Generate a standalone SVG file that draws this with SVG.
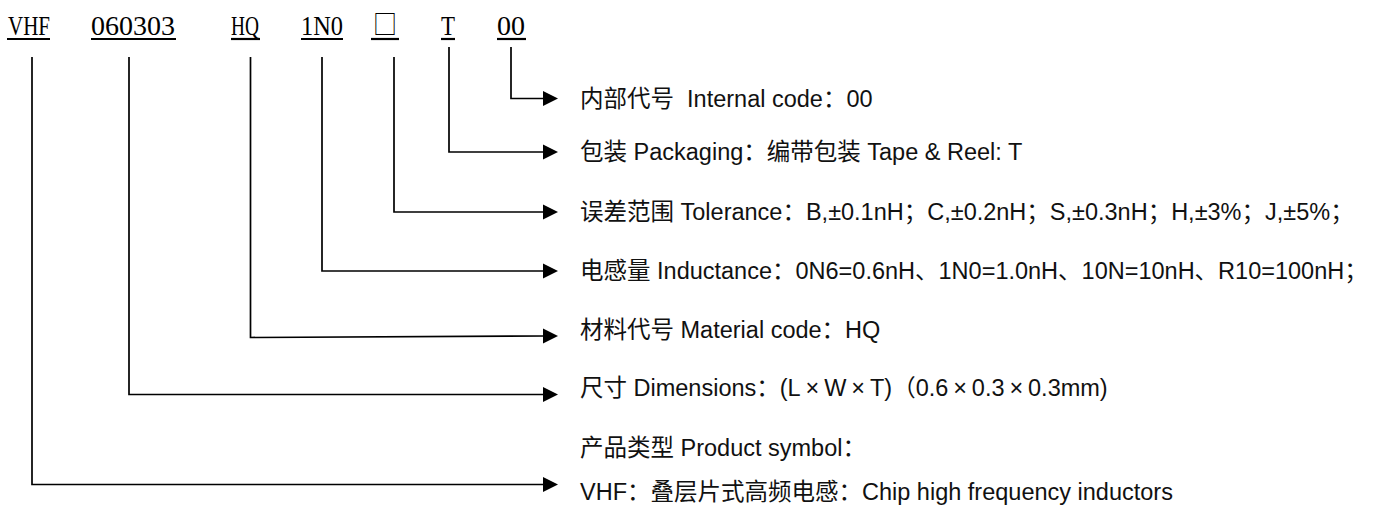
<svg xmlns="http://www.w3.org/2000/svg" width="1384" height="508" viewBox="0 0 1384 508">
<style>
.code{font-family:"Liberation Serif","Noto Sans CJK SC",serif;font-size:28px;fill:#000}
.box{font-family:"Noto Sans CJK SC","DejaVu Sans",sans-serif;font-size:26px;fill:#000}
.ul{stroke:#000;stroke-width:2.2;fill:none}
.desc{font-family:"Liberation Sans","Noto Sans CJK SC",sans-serif;font-size:23.5px;fill:#111;white-space:pre}
.con{stroke:#000;stroke-width:1.7;fill:none;marker-end:url(#arr)}
</style>
<defs>
<marker id="arr" markerUnits="userSpaceOnUse" markerWidth="15" markerHeight="16" refX="2" refY="8" orient="auto">
<path d="M0,0.5 L15,8 L0,15.5 z" fill="#000"/>
</marker>
</defs>
<g id="code-vhf"><text class="code" x="8" y="35" textLength="42" lengthAdjust="spacingAndGlyphs">VHF</text><line class="ul" x1="7" y1="39" x2="50" y2="39"/></g>
<g id="code-size"><text class="code" x="91" y="35" textLength="84" lengthAdjust="spacingAndGlyphs">060303</text><line class="ul" x1="91" y1="39" x2="176" y2="39"/></g>
<g id="code-material"><text class="code" x="231" y="35" textLength="28" lengthAdjust="spacingAndGlyphs">HQ</text><line class="ul" x1="231" y1="39" x2="260" y2="39"/></g>
<g id="code-inductance"><text class="code" x="301" y="35" textLength="42" lengthAdjust="spacingAndGlyphs">1N0</text><line class="ul" x1="301" y1="39" x2="343" y2="39"/></g>
<g id="code-tolerance"><text class="box" x="373" y="34" textLength="24" lengthAdjust="spacingAndGlyphs">□</text><line class="ul" x1="371" y1="39" x2="399" y2="39"/></g>
<g id="code-packaging"><text class="code" x="441" y="35" textLength="14" lengthAdjust="spacingAndGlyphs">T</text><line class="ul" x1="441" y1="39" x2="455" y2="39"/></g>
<g id="code-internal"><text class="code" x="497" y="35" textLength="28" lengthAdjust="spacingAndGlyphs">00</text><line class="ul" x1="497" y1="39" x2="526" y2="39"/></g>
<g id="connectors">
<path class="con" d="M511,47 V98.5 H545"/>
<path class="con" d="M449,47 V152 H545"/>
<path class="con" d="M394,57 V212 H545"/>
<path class="con" d="M322,57 V271 H545"/>
<path class="con" d="M250.5,57 V337.5 L545,336"/>
<path class="con" d="M129,57 V394.5 H545"/>
<path class="con" d="M32,57 V484.5 H545"/>
</g>
<g id="desc-internal"><text class="desc" x="580" y="107">内部代号  Internal code：00</text></g>
<g id="desc-packaging"><text class="desc" x="580" y="160">包装 Packaging：编带包装 Tape &amp; Reel: T</text></g>
<g id="desc-tolerance"><text class="desc" x="580" y="220">误差范围 Tolerance：B,±0.1nH；C,±0.2nH；S,±0.3nH；H,±3%；J,±5%；</text></g>
<g id="desc-inductance"><text class="desc" x="580" y="279">电感量 Inductance：0N6=0.6nH、1N0=1.0nH、10N=10nH、R10=100nH；</text></g>
<g id="desc-material"><text class="desc" x="580" y="338">材料代号 Material code：HQ</text></g>
<g id="desc-size"><text class="desc" x="580" y="396">尺寸 Dimensions：(L<tspan dx="4.9">×</tspan><tspan dx="4.9">W</tspan><tspan dx="4.9">×</tspan><tspan dx="4.9">T)（0.6</tspan><tspan dx="4.9">×</tspan><tspan dx="4.9">0.3</tspan><tspan dx="4.9">×</tspan><tspan dx="4.9">0.3mm)</tspan></text></g>
<g id="desc-product"><text class="desc" x="580" y="456">产品类型 Product symbol：</text><text class="desc" x="580" y="500">VHF：叠层片式高频电感：Chip high frequency inductors</text></g>
</svg>
